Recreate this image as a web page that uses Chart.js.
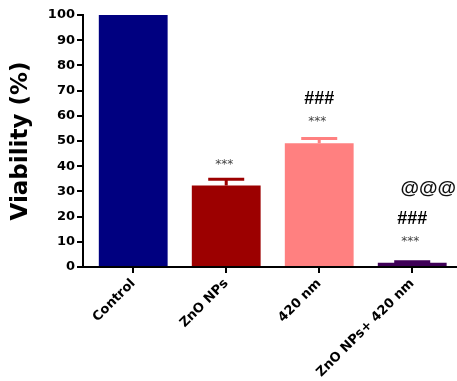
<!DOCTYPE html>
<html>
<head>
<meta charset="utf-8">
<script src="https://cdn.jsdelivr.net/npm/chart.js@4.4.1/dist/chart.umd.min.js"></script>
<style>
  html, body { margin: 0; padding: 0; background: #fff; }
  #wrap { width: 457px; height: 381px; position: relative; overflow: hidden; }
</style>
</head>
<body>
<div id="wrap"><canvas id="c" width="460" height="381"></canvas></div>
<script>
// Cell viability per treatment group (mean ± SEM)
const groups = ['Control', 'ZnO NPs', '420 nm', 'ZnO NPs+ 420 nm'];
const viability = [100, 32.3, 49.1, 1.7];
const sem = [0, 2.5, 1.9, 0.4];
const barColors = ['#000080', '#9c0000', '#ff8080', '#3f0057'];
const yTicks = [0, 10, 20, 30, 40, 50, 60, 70, 80, 90, 100];
// Significance marks stacked above each bar (bottom to top)
const marks = [[], ['***'], ['***', '###'], ['***', '###', '@@@']];

const FONT = '"DejaVu Sans", Verdana, sans-serif';
const ARIAL = '"Liberation Sans", Arial, sans-serif';

const errorBars = {
  id: 'errorBars',
  afterDatasetsDraw(chart) {
    const ctx = chart.ctx;
    const meta = chart.getDatasetMeta(0);
    const y = chart.scales.y;
    ctx.save();
    meta.data.forEach((bar, i) => {
      if (!sem[i]) return;
      const top = y.getPixelForValue(viability[i] + sem[i]);
      const base = y.getPixelForValue(viability[i]);
      ctx.strokeStyle = barColors[i];
      ctx.lineWidth = 3;
      ctx.beginPath();
      ctx.moveTo(bar.x, base);
      ctx.lineTo(bar.x, top);
      ctx.moveTo(bar.x - 18, top);
      ctx.lineTo(bar.x + 18, top);
      ctx.stroke();
    });
    ctx.restore();
  }
};

// style and distance above the bar top for each kind of mark
const markStyle = {
  '***': { font: '12px ' + FONT, color: '#444', gap: 21, dx: -2 },
  '###': { font: 'bold 18px ' + ARIAL, color: '#000', gap: 44, dx: 0 },
  '@@@': { font: 'bold 19px ' + ARIAL, color: '#111', gap: 74, dx: 16 }
};

const sigMarks = {
  id: 'sigMarks',
  afterDatasetsDraw(chart) {
    const ctx = chart.ctx;
    const meta = chart.getDatasetMeta(0);
    const y = chart.scales.y;
    ctx.save();
    ctx.textAlign = 'center';
    ctx.textBaseline = 'middle';
    meta.data.forEach((bar, i) => {
      const top = y.getPixelForValue(viability[i]);
      marks[i].forEach((m) => {
        const s = markStyle[m];
        ctx.font = s.font;
        ctx.fillStyle = s.color;
        ctx.fillText(m, bar.x + s.dx, top - s.gap);
      });
    });
    ctx.restore();
  }
};

new Chart(document.getElementById('c'), {
  type: 'bar',
  data: {
    labels: groups,
    datasets: [{
      data: viability,
      backgroundColor: barColors,
      borderWidth: 0,
      barPercentage: 0.74,
      categoryPercentage: 1
    }]
  },
  options: {
    responsive: false,
    animation: false,
    layout: { padding: { top: 15, right: 1, left: 7, bottom: 0 } },
    plugins: { legend: { display: false }, tooltip: { enabled: false } },
    scales: {
      x: {
        grid: { display: true, offset: false, drawOnChartArea: false, drawTicks: true, tickLength: 6, color: '#000', lineWidth: 2 },
        border: { display: true, color: '#000', width: 2 },
        ticks: {
          color: '#000',
          font: { family: FONT, size: 13, weight: 'bold' },
          maxRotation: 45, minRotation: 45, padding: 3
        },
        // small gap between the y axis and the first bar, slightly wider span on the right
        afterBuildTicks(scale) {
          scale.ticks = groups.map((g, i) => ({ value: i }));
          scale._startValue = -0.54;
          scale._valueRange = groups.length + 0.043;
        },
        afterFit(scale) { scale.height = 114; }
      },
      y: {
        min: 0, max: 100,
        afterBuildTicks(scale) { scale.ticks = yTicks.map(v => ({ value: v })); },
        grid: { display: true, drawOnChartArea: false, drawTicks: true, tickLength: 6, color: '#000', lineWidth: 2 },
        border: { display: true, color: '#000', width: 2 },
        ticks: {
          color: '#000',
          font: { family: FONT, size: 13, weight: 'bold' },
          padding: 2
        },
        title: {
          display: true,
          text: 'Viability (%)',
          color: '#000',
          font: { family: FONT, size: 23, weight: 'bold' },
          padding: { top: 0, bottom: 0 }
        },
        afterFit(scale) { scale.width = 76; }
      }
    }
  },
  plugins: [errorBars, sigMarks]
});
</script>
</body>
</html>
